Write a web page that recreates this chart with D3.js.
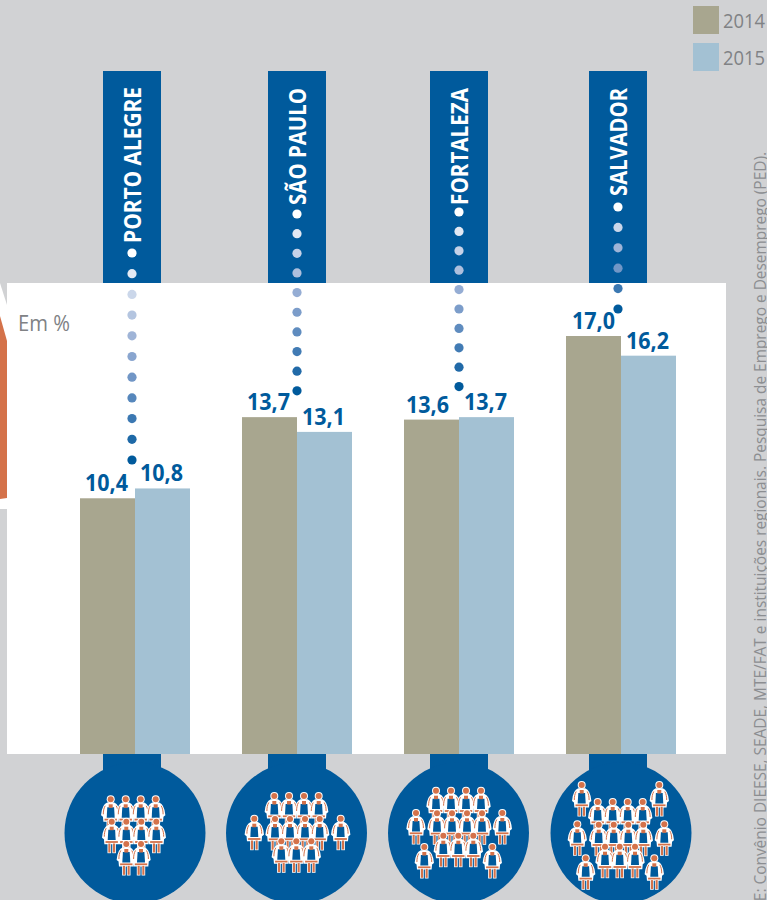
<!DOCTYPE html>
<html lang="pt-BR">
<head>
<meta charset="utf-8">
<title>Taxa de desemprego das mulheres</title>
<script src="https://cdn.jsdelivr.net/npm/d3@7"></script>
<style>
  html, body { margin: 0; padding: 0; background: #d1d2d4; overflow: hidden; }
  svg { display: block; }
  text { font-family: "Open Sans", "Noto Sans", sans-serif; }
</style>
</head>
<body>
<svg id="chart" width="767" height="900"></svg>
<script>
// Metropolitan regions and the rate for each year, in %
const cities = ["PORTO ALEGRE", "SÃO PAULO", "FORTALEZA", "SALVADOR"];
const years = ["2014", "2015"];
const values2014 = [10.4, 13.7, 13.6, 17.0];
const values2015 = [10.8, 13.1, 13.7, 16.2];
const unitLabel = "Em %";
const sourceNote = "FONTE: Convênio DIEESE, SEADE, MTE/FAT e instituições regionais. Pesquisa de Emprego e Desemprego (PED).";

const BLUE = "#005a9c", ORANGE = "#d4724a", GREY = "#808285", BG = "#d1d2d4";
const yearColor = d3.scaleOrdinal(years, ["#a8a68f", "#a3c1d3"]);

const svg = d3.select("#chart");

const baseline = 754;
const y = d3.scaleLinear().domain([0, 17]).range([baseline, 336]);
const group = d3.scaleBand().domain(cities).range([80, 676]).paddingInner(0.321).paddingOuter(0);
const bar = d3.scaleBand().domain(years).range([0, group.bandwidth()]);
const fmt = v => d3.format(".1f")(v).replace(".", ",");

// Narrows a placed text to the given length by scaling it along its own direction
function fit(sel, len) {
  sel.each(function (d, i) {
    const target = typeof len === "function" ? len(d, i) : len;
    const t = d3.select(this);
    const ratio = target / this.getComputedTextLength();
    t.attr("transform", `${t.attr("transform")} scale(${ratio},1)`);
  });
}

// Notch and orange edge left of the white panel
svg.append("path").attr("d", "M0,283V509H7V283Z").attr("fill", "#fff");
svg.append("path").attr("d", "M0,283L7,305V283Z").attr("fill", BG);
svg.append("path").attr("d", "M0,316L7,341V498L0,499Z").attr("fill", ORANGE);

// White panel behind the bars
svg.append("rect").attr("x", 7).attr("y", 283).attr("width", 719).attr("height", baseline - 283).attr("fill", "#fff");

svg.append("text").attr("transform", "translate(18,331)").attr("font-size", 21).attr("fill", GREY)
  .text(unitLabel).call(fit, 52);

// Tab and medallion for each region
const tabCenter = [132, 297, 459, 618];
const medalCenter = [135, 296.5, 458.5, 621];
const tabWidth = 58;

const tabs = svg.append("g").selectAll("g").data(cities).join("g");
tabs.append("rect")
  .attr("x", (d, i) => tabCenter[i] - tabWidth / 2).attr("y", 71)
  .attr("width", tabWidth).attr("height", 212).attr("fill", BLUE);
tabs.append("rect")
  .attr("x", (d, i) => tabCenter[i] - tabWidth / 2).attr("y", baseline)
  .attr("width", tabWidth).attr("height", 30).attr("fill", BLUE);
tabs.append("circle")
  .attr("cx", (d, i) => medalCenter[i]).attr("cy", 833).attr("r", 70.5).attr("fill", BLUE);

// Region names, read bottom to top
const nameLength = [156, 117, 117, 108];
const nameEnd = [87, 88, 88, 88];
tabs.append("text")
  .attr("transform", (d, i) => `translate(${tabCenter[i] + 9},${nameEnd[i]}) rotate(-90)`)
  .attr("text-anchor", "end")
  .attr("font-size", 22.5).attr("font-weight", 700).attr("fill", "#fff")
  .text(d => d)
  .call(fit, (d, i) => nameLength[i]);

// Dotted leaders running from each name down towards its bars
const leaderTop = [253, 214, 212, 207];
const leaderStep = [20.7, 19.65, 19.4, 20.4];
const leaderCount = [11, 10, 10, 6];
const fade = d3.scaleSequential(d3.interpolateRgbBasis(["#ffffff", "#bccbe4", "#8ca5cf", "#4a7fb8", "#005a9c"]));

tabs.each(function (d, i) {
  d3.select(this).selectAll("circle.leader").data(d3.range(leaderCount[i])).join("circle")
    .attr("class", "leader")
    .attr("cx", tabCenter[i])
    .attr("cy", k => leaderTop[i] + k * leaderStep[i])
    .attr("r", 4.6)
    .attr("fill", k => fade(k / (leaderCount[i] - 1)));
});

// Bars and their value labels
const rows = cities.flatMap((city, i) => [
  { city, year: years[0], value: values2014[i] },
  { city, year: years[1], value: values2015[i] }
]);
const barX = d => group(d.city) + bar(d.year);
const labelShift = [0, 0, 0, 0, -3, 0, 1, 0];

svg.append("g").selectAll("rect").data(rows).join("rect")
  .attr("x", barX)
  .attr("y", d => y(d.value))
  .attr("width", bar.bandwidth())
  .attr("height", d => baseline - y(d.value))
  .attr("fill", d => yearColor(d.year));

svg.append("g").selectAll("text").data(rows).join("text")
  .attr("transform", (d, i) => `translate(${barX(d) + bar.bandwidth() / 2 - 1 + labelShift[i]},${y(d.value) - 7})`)
  .attr("text-anchor", "middle")
  .attr("font-size", 23).attr("font-weight", 700).attr("fill", BLUE)
  .text(d => fmt(d.value))
  .call(fit, 43);

// Legend
const legend = svg.append("g").selectAll("g").data(years).join("g")
  .attr("transform", (d, i) => `translate(693,${6 + i * 37})`);
legend.append("rect").attr("width", 26).attr("height", 28).attr("fill", d => yearColor(d));
legend.append("text").attr("transform", "translate(30,21.5)").attr("font-size", 20.5).attr("fill", GREY)
  .text(d => d).call(fit, 42);

// Source note along the right edge
svg.append("text")
  .attr("transform", "translate(766,152) rotate(-90)")
  .attr("text-anchor", "end")
  .attr("font-size", 15.5).attr("fill", "#8c8e91")
  .text(sourceNote)
  .call(fit, 790);

// Figure of a woman, origin at the centre of the head
const defs = svg.append("defs");
const fig = defs.append("g").attr("id", "woman");
const dress = "M-3.2,4.2 L3.2,4.2 C6,5.2 8,9.5 8.6,15.5 L6.8,17 L6.4,21.5 L-6.4,21.5 L-6.8,17 L-8.6,15.5 C-8,9.5 -6,5.2 -3.2,4.2Z";
fig.append("circle").attr("r", 4).attr("fill", "#fff");
fig.append("path").attr("d", dress).attr("fill", "#fff").attr("stroke", "#fff").attr("stroke-width", 2);
fig.append("path").attr("d", "M-5.5,6.5 C-7,9 -7.4,12 -7.4,15").attr("fill", "none").attr("stroke", ORANGE).attr("stroke-width", 1);
fig.append("path").attr("d", "M5.5,6.5 C7,9 7.4,12 7.4,15").attr("fill", "none").attr("stroke", ORANGE).attr("stroke-width", 1);
fig.append("path").attr("d", "M-3.4,8 L3.4,8 L4,18.4 L-4,18.4Z").attr("fill", BLUE);
fig.append("path").attr("d", "M-2,5 H2 V8.5 H-2Z").attr("fill", ORANGE);
fig.append("path").attr("d", "M-6.2,19.4 H6.2 V21.2 H-6.2Z").attr("fill", ORANGE);
fig.append("rect").attr("x", -4.2).attr("y", 21.5).attr("width", 3.6).attr("height", 10).attr("fill", "#fff");
fig.append("rect").attr("x", 0.6).attr("y", 21.5).attr("width", 3.6).attr("height", 10).attr("fill", "#fff");
fig.append("rect").attr("x", -3.4).attr("y", 21.8).attr("width", 2.1).attr("height", 9).attr("fill", ORANGE);
fig.append("rect").attr("x", 1.3).attr("y", 21.8).attr("width", 2.1).attr("height", 9).attr("fill", ORANGE);
fig.append("circle").attr("r", 3).attr("fill", ORANGE);

// Groups of figures inside each medallion, back rows first
const crowd = [
  [[110.7,799.3],[125.7,799.3],[140.7,799.3],[155.7,799.3],
   [111.7,821.7],[126.3,821.7],[141.3,821.7],[156.3,821.7],
   [126.3,844],[141,844]],
  [[274.3,796],[289,796],[304,796],[318.7,796],
   [254.3,818.7],[340.7,818.7],
   [275,819],[290,819],[305,819],[319.7,819],
   [281.3,841.3],[296.3,841.3],[311.3,841.3]],
  [[436,790.7],[451,790.7],[466,790.7],[481,790.7],
   [416,813],[502.3,813],
   [437,813.3],[452,813.3],[467,813.3],[482,813.3],
   [443.3,835.7],[458.3,835.7],[473.3,835.7],
   [424.3,847],[492.3,847]],
  [[581.7,785],[659.3,785],
   [597.7,802],[612.7,802],[627.7,802],[642.7,802],
   [577.3,824.3],[664.3,824.3],
   [598.7,824.7],[613.7,824.7],[628.3,824.7],[643.3,824.7],
   [605,846.7],[619.7,846.7],[635,846.7],
   [585.7,858.3],[654.3,858.3]]
];

svg.append("g").selectAll("use").data(crowd.flat()).join("use")
  .attr("href", "#woman")
  .attr("x", d => d[0]).attr("y", d => d[1]);
</script>
</body>
</html>
